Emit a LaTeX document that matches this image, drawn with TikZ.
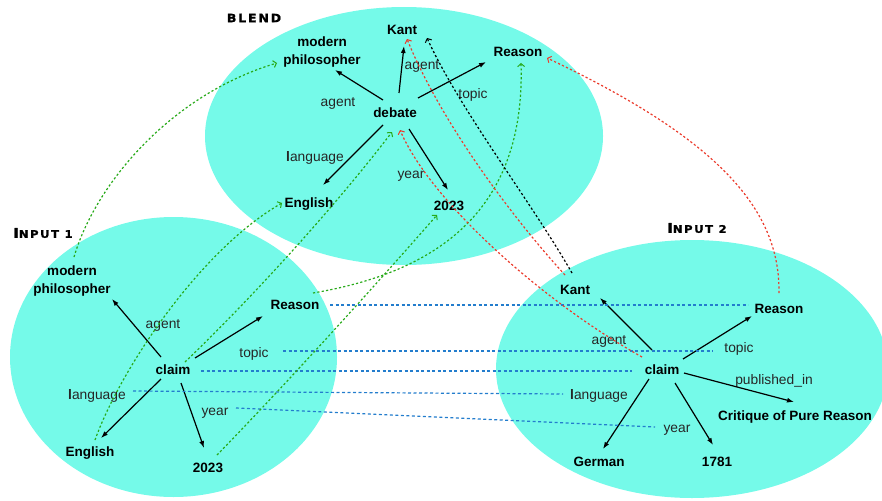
\documentclass[tikz,border=0pt]{standalone}
\usepackage{fontspec}
\setmainfont{Liberation Sans}
\newfontfamily\ttlfont{DejaVu Sans}[FakeStretch=1.1,LetterSpace=15,FakeBold=1.2]
\usetikzlibrary{arrows.meta}
\definecolor{blob}{RGB}{117,250,233}
\definecolor{mapgreen}{RGB}{40,170,25}
\definecolor{mapred}{RGB}{235,60,45}
\definecolor{mapblue}{RGB}{35,125,205}
\tikzset{
  concept/.style={inner sep=0pt, text height=13.7pt, text depth=0pt, font=\fontsize{13.5}{16}\selectfont\bfseries},
  twoline/.style={inner sep=0pt, align=center, font=\fontsize{13.5}{17.3}\selectfont\bfseries},
  rel/.style={inner sep=0pt, text height=12.3pt, text depth=0pt, text=black!85, font=\fontsize{13.8}{16}\selectfont},
  ttl/.style={inner sep=0pt, font=\ttlfont\bfseries\fontsize{10.5}{12}\selectfont},
  relarrow/.style={-{Latex[length=7pt,width=5pt]}, line width=1.2pt, black},
  mapline/.style={line width=1.2pt, dash pattern=on 2.2pt off 2.2pt, -{Straight Barb[length=3pt,width=7pt,line width=1pt]}},
  greenmap/.style={mapline, mapgreen},
  redmap/.style={mapline, mapred},
  blackmap/.style={mapline, black},
  bluemap/.style={line width=1.2pt, dash pattern=on 3pt off 2.5pt, mapblue}
}
\newcommand{\lang}{{\bfseries l}anguage}
\begin{document}
\begin{tikzpicture}[x=1pt,y=-1pt]
\useasboundingbox (0,0) rectangle (882,500);
% spaces
\fill[blob] (404,136) ellipse [x radius=199pt, y radius=129pt];
\fill[blob] (173.5,357) ellipse [x radius=163.5pt, y radius=140pt];
\fill[blob] (692,369) ellipse [x radius=196pt, y radius=129pt];

% titles
\node[ttl] (tb) at (254,18) {\fontsize{11.5}{12}\selectfont BLEND};
\node[ttl] (ti1) at (43,233) {{\fontsize{13.5}{14}\selectfont I}NPUT 1};
\node[ttl] (ti2) at (697,228) {{\fontsize{13.5}{14}\selectfont I}NPUT 2};

% blend
\node[twoline] (bmp) at (322,52) {modern\\philosopher};
\node[concept] (bk) at (402,28) {Kant};
\node[concept] (br) at (518,50) {Reason};
\node[concept] (bd) at (395,111) {debate};
\node[rel] (bla1) at (338,100) {agent};
\node[rel] (bla2) at (422,63) {agent};
\node[rel] (blt) at (473,92) {topic};
\node[rel] (bll) at (315,155) {\lang};
\node[rel] (bly) at (411,172) {year};
\node[concept] (be) at (309,201) {English};
\node[concept] (b23) at (449,204) {2023};

% input 1
\node[twoline] (amp) at (72,281) {modern\\philosopher};
\node[rel] (aag) at (163,322) {agent};
\node[concept] (ar) at (295,303) {Reason};
\node[rel] (atp) at (254,351) {topic};
\node[concept] (ac) at (173,368) {claim};
\node[rel] (ala) at (97,393) {\lang};
\node[rel] (ay) at (215,409) {year};
\node[concept] (ae) at (90,450) {English};
\node[concept] (a23) at (208,466) {2023};

% input 2
\node[concept] (ck) at (575,288) {Kant};
\node[concept] (cr) at (779,307) {Reason};
\node[rel] (cag) at (609,338) {agent};
\node[rel] (ctp) at (739,346) {topic};
\node[concept] (cc) at (662,368) {claim};
\node[rel] (cpub) at (774,378) {published\_in};
\node[rel] (cla) at (599,393) {\lang};
\node[concept] (ccr) at (795,414) {Critique of Pure Reason};
\node[rel] (cy) at (677,426) {year};
\node[concept] (cg) at (599,460) {German};
\node[concept] (c17) at (717,460) {1781};

% relation arrows, blend
\draw[relarrow] ([shift={(-12,-11)}]bd.center) -- ([shift={(13,18)}]bmp.center);
\draw[relarrow] ([shift={(4,-18)}]bd.center) -- ([shift={(2,18)}]bk.center);
\draw[relarrow] ([shift={(23,-13)}]bd.center) -- ([shift={(-32,12)}]br.center);
\draw[relarrow] ([shift={(-12,14)}]bd.center) -- ([shift={(14,-16)}]be.center);
\draw[relarrow] ([shift={(14,18)}]bd.center) -- ([shift={(-1,-14)}]b23.center);

% relation arrows, input 1
\draw[relarrow] ([shift={(-12,-11)}]ac.center) -- ([shift={(40,18)}]amp.center);
\draw[relarrow] ([shift={(22,-10)}]ac.center) -- ([shift={(-32,13)}]ar.center);
\draw[relarrow] ([shift={(-12,11)}]ac.center) -- ([shift={(11,-12)}]ae.center);
\draw[relarrow] ([shift={(8,15)}]ac.center) -- ([shift={(-4,-18)}]a23.center);

% relation arrows, input 2
\draw[relarrow] ([shift={(-10,-18)}]cc.center) -- ([shift={(25,10)}]ck.center);
\draw[relarrow] ([shift={(21,-9)}]cc.center) -- ([shift={(-27,9)}]cr.center);
\draw[relarrow] ([shift={(22,5)}]cc.center) -- ([shift={(-1,-12)}]ccr.center);
\draw[relarrow] ([shift={(-13,11)}]cc.center) -- ([shift={(4,-11)}]cg.center);
\draw[relarrow] ([shift={(13,15)}]cc.center) -- ([shift={(-4,-15)}]c17.center);

% cross-space mappings (blue)
\draw[bluemap] ([shift={(35,2)}]ar.center) -- ([shift={(-31,-2)}]cr.center);
\draw[bluemap] ([shift={(29,0)}]atp.center) -- ([shift={(-26,5)}]ctp.center);
\draw[bluemap] ([shift={(28,3)}]ac.center) -- ([shift={(-30,3)}]cc.center);
\draw[bluemap] ([shift={(36,-2)}]ala.center) -- ([shift={(-36,1)}]cla.center);
\draw[bluemap] ([shift={(21,-1)}]ay.center) -- ([shift={(-22,1)}]cy.center);

% projections from input 1 (green)
\draw[greenmap] ([shift={(2,-24)}]amp.center) .. controls +(21,-72) and +(-107,32) .. ([shift={(-45,11)}]bmp.center);
\draw[greenmap] ([shift={(5,-10)}]ae.center) .. controls +(25,-70) and +(-82,47) .. ([shift={(-27,2)}]be.center);
\draw[greenmap] ([shift={(12,-6)}]ac.center) .. controls +(75,-72) and +(-52,68) .. ([shift={(-3,21)}]bd.center);
\draw[greenmap] ([shift={(18,-10)}]ar.center) .. controls +(137,-23) and +(4,137) .. ([shift={(3,13)}]br.center);
\draw[greenmap] ([shift={(9,-11)}]a23.center) .. controls +(73,-75) and +(-57,65) .. ([shift={(-12,11)}]b23.center);

% projections from input 2 (red)
\draw[redmap] ([shift={(-10,-13)}]ck.center) .. controls +(-55,-60) and +(33,81) .. ([shift={(5,11)}]bk.center);
\draw[redmap] ([shift={(-20,-11)}]cc.center) .. controls +(-102,-57) and +(30,70) .. ([shift={(5,19)}]bd.center);
\draw[redmap] ([shift={(0,-14)}]cr.center) .. controls +(1,-83) and +(173,82) .. ([shift={(29,8)}]br.center);

% black projection
\draw[blackmap] ([shift={(-3,-15)}]ck.center) .. controls +(-42,-73) and +(33,72) .. ([shift={(25,10)}]bk.center);
\end{tikzpicture}
\end{document}
